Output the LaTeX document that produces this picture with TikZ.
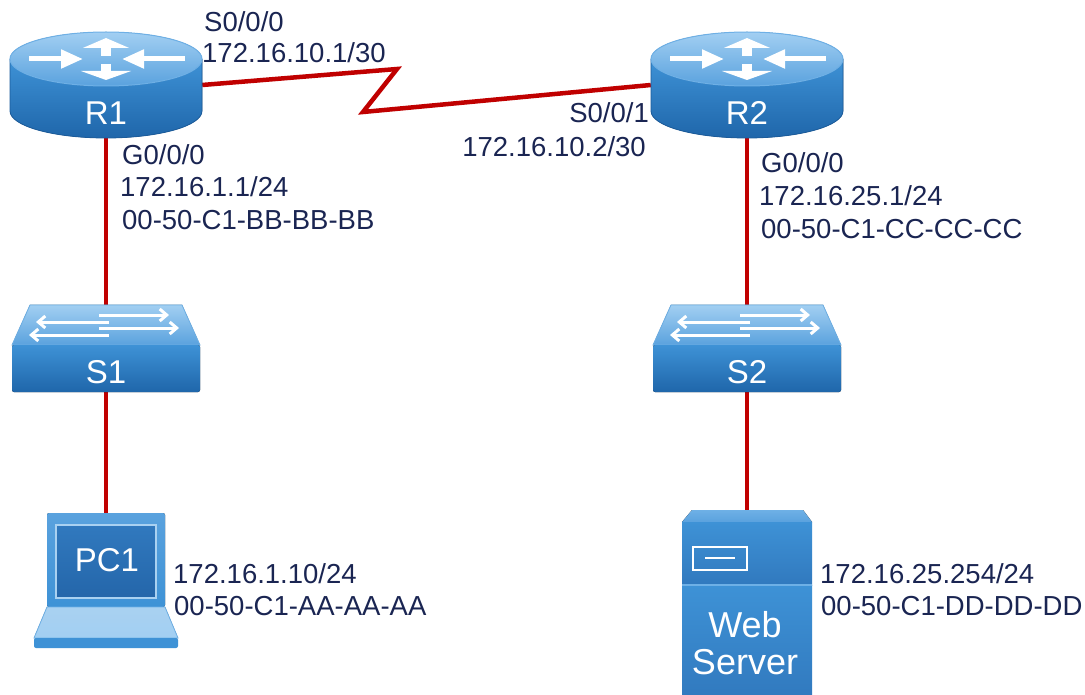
\documentclass[tikz,border=0pt]{standalone}
\usepackage{fontspec}
\setmainfont{Liberation Sans}
\usetikzlibrary{arrows.meta}
\definecolor{txt}{HTML}{1A2552}
\definecolor{linkred}{HTML}{C00000}
\definecolor{topL}{HTML}{A2CFF2}
\definecolor{topD}{HTML}{5AA2DE}
\definecolor{sideL}{HTML}{3E92D6}
\definecolor{sideD}{HTML}{1F66AA}
\definecolor{edgeD}{HTML}{1B5C9C}
\definecolor{rimL}{HTML}{6EB0E6}
\definecolor{scrD}{HTML}{2466AA}
\definecolor{scrL}{HTML}{3179BE}
\definecolor{keyL}{HTML}{A9D1F1}
\begin{document}
\begin{tikzpicture}[x=1pt,y=-1pt,
  lbl/.style={text=txt, font=\fontsize{27.5}{32}\selectfont, inner sep=0pt},
  devtxt/.style={text=white, font=\fontsize{33}{37}\selectfont, inner sep=0pt},
  srvtxt/.style={text=white, font=\fontsize{36}{37}\selectfont, inner sep=0pt, align=center},
  dev/.style={inner sep=0pt, draw=none, rectangle},
  link/.style={draw=linkred, line width=4.5pt},
  swarrow/.style={white, line width=3pt, -{Straight Barb[length=7pt,width=12pt]}},
  router/.pic={
    \fill[top color=sideL, bottom color=sideD] (-96,0) -- (-96,52) arc[start angle=180,end angle=0,x radius=96,y radius=27] -- (96,0) -- cycle;
    \draw[edgeD, line width=0.8pt] (-96,0) -- (-96,52) arc[start angle=180,end angle=0,x radius=96,y radius=27] -- (96,0);
    \fill[top color=topL, bottom color=topD, draw=rimL, line width=1pt] (0,0) ellipse[x radius=96, y radius=27];
    \draw[white, line width=10pt, -{Triangle[width=46pt,length=10pt]}] (0,-3) -- (0,-21);
    \draw[white, line width=10pt, -{Triangle[width=50pt,length=9pt]}] (0,5) -- (0,21);
    \draw[white, line width=5pt, -{Triangle[width=18pt,length=22pt]}] (-77,0) -- (-23,0);
    \draw[white, line width=5pt, -{Triangle[width=18pt,length=22pt]}] (79,0) -- (16,0);
  },
  switch/.pic={
    \fill[top color=topL, bottom color=topD] (-76,0) -- (76,0) -- (94,40) -- (-94,40) -- cycle;
    \draw[rimL, line width=0.8pt] (-76,0) -- (76,0) -- (94,40) -- (-94,40) -- cycle;
    \fill[top color=sideL, bottom color=sideD, rounded corners=2pt] (-94,40) rectangle (94,87);
    \draw[swarrow] (-7,10) -- (63,10);
    \draw[swarrow] (3,17) -- (-70,17);
    \draw[swarrow] (-7,23) -- (73,23);
    \draw[swarrow] (3,30) -- (-77,30);
  },
  laptop/.pic={
    \fill[rounded corners=2pt, top color=topD, bottom color=sideL] (-59,0) rectangle (59,94);
    \fill[top color=scrL, bottom color=scrD] (-50,12) rectangle (50,85);
    \draw[keyL, line width=1.5pt] (-50,12) rectangle (50,85);
    \fill[top color=keyL, bottom color=topL] (-59,94) -- (59,94) -- (72,125) -- (-72,125) -- cycle;
    \draw[rimL, line width=0.8pt] (-59,94) -- (59,94) -- (72,125) -- (-72,125) -- cycle;
    \fill[sideL, rounded corners=2pt] (-72,125) rectangle (72,135);
  },
  server/.pic={
    \fill[top color=rimL, bottom color=topD] (-55,0) -- (56,0) -- (65,12) -- (-65,12) -- cycle;
    \fill[top color=sideL, bottom color=scrL] (-65,12) rectangle (65,75);
    \fill[top color=sideL, bottom color=scrL] (-65,75) rectangle (65,190);
    \draw[rimL, line width=1.2pt] (-65,75) -- (65,75);
    \draw[white, line width=1.8pt] (-54,37) rectangle (0,60);
    \draw[white, line width=1.8pt] (-42,48) -- (-12,48);
  }]
\useasboundingbox (0,0) rectangle (1085,695);
\fill[white] (0,0) rectangle (1085,695);

% device frames (named)
\node[dev, minimum width=192pt, minimum height=106pt] (R1) at (106,85) {};
\node[dev, minimum width=192pt, minimum height=106pt] (R2) at (747,85) {};
\node[dev, minimum width=188pt, minimum height=87pt] (S1) at (106,348.5) {};
\node[dev, minimum width=188pt, minimum height=87pt] (S2) at (747,348.5) {};
\node[dev, minimum width=144pt, minimum height=135pt] (PC1) at (106,580.5) {};
\node[dev, minimum width=130pt, minimum height=185pt] (WS) at (747,602.5) {};
\coordinate (z1) at (397,69);
\coordinate (z2) at (363,112);

% connectors
\draw[link] (R1.east) -- (z1) -- (z2) -- (R2.west);
\draw[link] (R1.south) -- (S1.north);
\draw[link] (S1.south) -- (PC1.north);
\draw[link] (R2.south) -- (S2.north);
\draw[link] (S2.south) -- (WS.north);

% devices
\pic at (106,59) {router};
\pic at (747,59) {router};
\pic at (106,305) {switch};
\pic at (747,305) {switch};
\pic at (106,513) {laptop};
\pic at (747,510) {server};

\node[devtxt] at (106,113) {R1};
\node[devtxt] at (747,113) {R2};
\node[devtxt] at (106,372) {S1};
\node[devtxt] at (747,372) {S2};
\node[devtxt] at (107,560) {PC1};
\node[srvtxt] at (745,643) {Web\\Server};

% labels
\node[lbl, anchor=base west] at (204,32) {S0/0/0};
\node[lbl, anchor=base west] at (202,63) {172.16.10.1/30};
\node[lbl, anchor=base west] at (122,165) {G0/0/0};
\node[lbl, anchor=base west] at (120,197) {172.16.1.1/24};
\node[lbl, anchor=base west] at (122,230) {00-50-C1-BB-BB-BB};
\node[lbl, anchor=base east] at (649,123) {S0/0/1};
\node[lbl, anchor=base east] at (646,157) {172.16.10.2/30};
\node[lbl, anchor=base west] at (761,173) {G0/0/0};
\node[lbl, anchor=base west] at (759,206) {172.16.25.1/24};
\node[lbl, anchor=base west] at (761,239) {00-50-C1-CC-CC-CC};
\node[lbl, anchor=base west] at (173,583) {172.16.1.10/24};
\node[lbl, anchor=base west] at (174,615) {00-50-C1-AA-AA-AA};
\node[lbl, anchor=base west] at (820,583) {172.16.25.254/24};
\node[lbl, anchor=base west] at (821,615) {00-50-C1-DD-DD-DD};
\end{tikzpicture}
\end{document}
